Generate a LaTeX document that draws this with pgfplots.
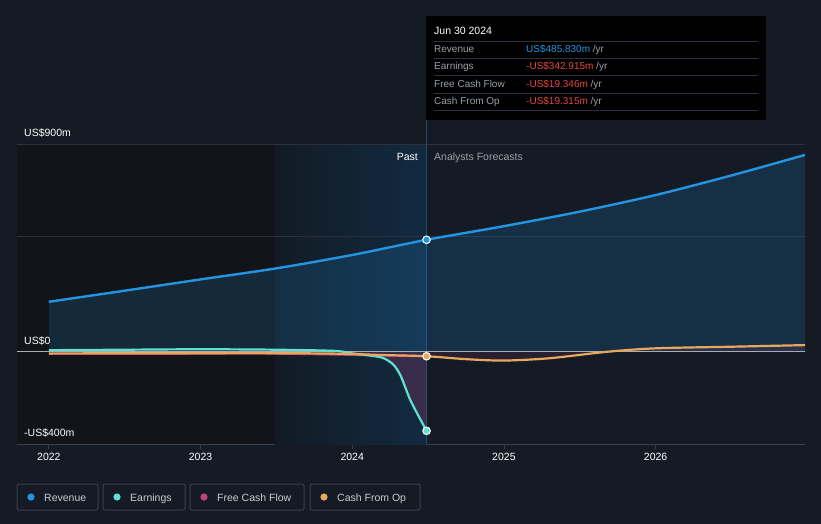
\documentclass[border=0pt]{standalone}
\usepackage{pgfplots}
\pgfplotsset{compat=1.18}
\usepackage{fontspec}
\setmainfont{Liberation Sans}
\definecolor{bg}{HTML}{151B25}
\definecolor{darkreg}{HTML}{111419}
\definecolor{pastL}{HTML}{121B25}
\definecolor{pastR}{HTML}{122A40}
\definecolor{gridc}{HTML}{2A313C}
\definecolor{axc}{HTML}{3B414A}
\definecolor{zeroc}{HTML}{A9ADB2}
\definecolor{rev}{HTML}{2394DF}
\definecolor{earn}{HTML}{5EE0D3}
\definecolor{fcf}{HTML}{C2407A}
\definecolor{cfo}{HTML}{E8A85B}
\definecolor{vline}{HTML}{1F4D70}
\definecolor{lblgray}{HTML}{9AA0A6}
\definecolor{negred}{HTML}{E84545}
\definecolor{legbord}{HTML}{3A3F48}
\definecolor{legtext}{HTML}{C8CCD0}

\pgfplotstableread{
x y
2022.0 217
2022.5 265
2023.0 314
2023.5 362
2024.0 420
2024.49 485.8
2025.0 545
2025.5 608
2026.0 680
2026.5 765
2026.985 854
}\revtab

\pgfplotstableread{
x y
2022.0 7
2022.5 9
2023.0 11
2023.5 9
2023.88 4
2023.99 -6
2024.10 -15
2024.20 -26
2024.27 -55
2024.32 -105
2024.38 -205
2024.44 -282
2024.49 -342.9
}\earntab

\pgfplotstableread{
x y
2023.88 0
2023.99 -6
2024.10 -15
2024.20 -26
2024.27 -55
2024.32 -105
2024.38 -205
2024.44 -282
2024.49 -342.9
}\earnfilltab

\pgfplotstableread{
x y
2022.0 -9
2023.0 -8
2023.5 -8
2024.0 -13
2024.49 -19.3
}\fcftab

\pgfplotstableread{
x y
2022.0 -7
2023.0 -6
2023.5 -6
2023.9 -8
2024.2 -14
2024.49 -19.3
2024.75 -32
2025.0 -38
2025.3 -28
2025.68 0
2026.0 15
2026.5 22
2026.985 29
}\cfotab

\pgfplotstableread{
x y
2024.49 -19.3
2024.75 -32
2025.0 -38
2025.3 -28
2025.68 0
2026.0 15
2026.5 22
2026.985 29
}\cfofilltab

\begin{document}
\begin{tikzpicture}
\useasboundingbox (0pt,0pt) rectangle (821pt,-524pt);
\fill[bg] (0pt,0pt) rectangle (821pt,-524pt);
\begin{axis}[
  at={(17pt,-444pt)}, anchor=south west,
  scale only axis, width=788pt, height=299.7pt,
  xmin=2021.79, xmax=2026.985, ymin=-400, ymax=900,
  axis x line=bottom, axis y line=none,
  x axis line style={color=axc, line width=1pt, -},
  xtick={2022,2023,2024,2025,2026},
  xticklabels={2022,2023,2024,2025,2026},
  ytick=\empty,
  tick style={color=axc, line width=0.8pt},
  major tick length=5pt, tick align=outside,
  xticklabel style={font=\fontsize{10.5}{12}\selectfont, text=white, yshift=-1pt},
  clip=true,
]
% regions
\fill[darkreg] (axis cs:2021.79,-400) rectangle (axis cs:2023.49,900);
\shade[left color=pastL, right color=pastR] (axis cs:2023.49,-400) rectangle (axis cs:2024.49,900);
% grid
\draw[gridc, line width=1pt] (axis cs:2021.79,900) -- (axis cs:2026.985,900);
\draw[gridc, line width=1pt] (axis cs:2021.79,500) -- (axis cs:2026.985,500);
\draw[vline, line width=1pt] (axis cs:2024.49,-400) -- (axis cs:2024.49,900);

\addplot[fill=rev, fill opacity=0.17, draw=none, smooth] table[x=x,y=y] {\revtab} \closedcycle;
\addplot[fill=fcf, fill opacity=0.22, draw=none, smooth] table[x=x,y=y] {\earnfilltab} \closedcycle;
\addplot[fill=fcf, fill opacity=0.12, draw=none, smooth] table[x=x,y=y] {\cfofilltab} \closedcycle;

\draw[zeroc, line width=1pt] (axis cs:2021.79,0) -- (axis cs:2026.985,0);

\addplot[fcf, line width=2.2pt, smooth] table[x=x,y=y] {\fcftab};
\addplot[earn, line width=2.2pt, smooth] table[x=x,y=y] {\earntab};
\addplot[cfo, line width=2.2pt, smooth] table[x=x,y=y] {\cfotab};
\addplot[rev, line width=2.4pt, smooth] table[x=x,y=y] {\revtab};

\addplot[only marks, mark=*, mark size=3.8pt, mark options={fill=rev, draw=white, line width=1pt}] coordinates {(2024.49,485.8)};
\addplot[only marks, mark=*, mark size=3.8pt, mark options={fill=earn, draw=white, line width=1pt}] coordinates {(2024.49,-342.9)};
\addplot[only marks, mark=*, mark size=3.8pt, mark options={fill=cfo, draw=white, line width=1pt}] coordinates {(2024.49,-19.3)};
\end{axis}

\begin{scope}[x=1pt,y=-1pt]
% y labels
\node[anchor=base west, inner sep=0pt, text=white, font=\fontsize{10.5}{12}\selectfont] at (24,136) {US\$900m};
\node[anchor=base west, inner sep=0pt, text=white, font=\fontsize{10.5}{12}\selectfont] at (24,344) {US\$0};
\node[anchor=base west, inner sep=0pt, text=white, font=\fontsize{10.5}{12}\selectfont] at (24,436) {-US\$400m};
% past / forecasts
\node[anchor=base east, inner sep=0pt, text=white, font=\fontsize{10.5}{12}\selectfont] at (418,160) {Past};
\node[anchor=base west, inner sep=0pt, text=lblgray, font=\fontsize{10.5}{12}\selectfont] at (434,160) {Analysts Forecasts};
% tooltip
\fill[black] (426,16) rectangle (766,120);
\draw[vline, line width=1pt] (426.5,120) -- (426.5,144);
\node[anchor=base west, inner sep=0pt, text=white, font=\fontsize{10.5}{12}\selectfont] at (434,35) {Jun 30 2024};
\foreach \yy in {41,58.3,75.7,93.3,110.5} {\draw[gridc, line width=0.8pt] (434,\yy) -- (758,\yy);}
\node[anchor=base west, inner sep=0pt, text=lblgray, font=\fontsize{10}{12}\selectfont] at (434,53) {Revenue};
\node[anchor=base west, inner sep=0pt, text=lblgray, font=\fontsize{10}{12}\selectfont] at (434,70) {Earnings};
\node[anchor=base west, inner sep=0pt, text=lblgray, font=\fontsize{10}{12}\selectfont] at (434,88) {Free Cash Flow};
\node[anchor=base west, inner sep=0pt, text=lblgray, font=\fontsize{10}{12}\selectfont] at (434,105) {Cash From Op};
\node[anchor=base west, inner sep=0pt, font=\fontsize{10}{12}\selectfont] at (526,53) {\textcolor{rev}{US\$485.830m} \textcolor{lblgray}{/yr}};
\node[anchor=base west, inner sep=0pt, font=\fontsize{10}{12}\selectfont] at (526,70) {\textcolor{negred}{-US\$342.915m} \textcolor{lblgray}{/yr}};
\node[anchor=base west, inner sep=0pt, font=\fontsize{10}{12}\selectfont] at (526,88) {\textcolor{negred}{-US\$19.346m} \textcolor{lblgray}{/yr}};
\node[anchor=base west, inner sep=0pt, font=\fontsize{10}{12}\selectfont] at (526,105) {\textcolor{negred}{-US\$19.315m} \textcolor{lblgray}{/yr}};
% legend
\foreach \xa/\xb/\cc/\lab in {17/98/rev/Revenue, 103/185/earn/Earnings, 190/304/fcf/Free Cash Flow, 310/420/cfo/Cash From Op} {
  \draw[legbord, line width=1pt, rounded corners=2pt] (\xa,484) rectangle (\xb,510);
  \fill[\cc] (\xa+14,497) circle (3.6);
  \node[anchor=base west, inner sep=0pt, text=legtext, font=\fontsize{10.5}{12}\selectfont] at (\xa+27,501) {\lab};
}
\end{scope}
\end{tikzpicture}
\end{document}
